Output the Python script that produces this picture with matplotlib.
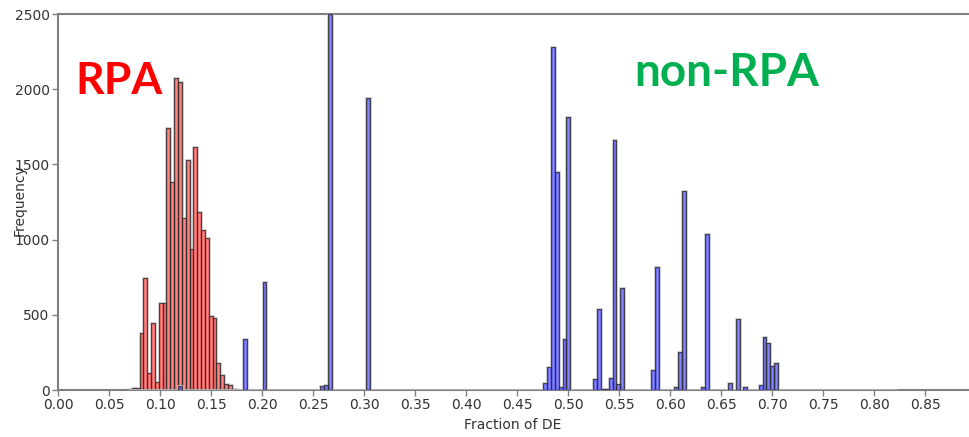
import numpy as np
import matplotlib
matplotlib.use("Agg")
import matplotlib.pyplot as plt

# ---- data ----
bin_lo = 0.0686
bin_width = 0.00377
n_bins = 200

rpa_bins = [0, 1, 2, 3, 4, 5, 6, 7, 8, 9, 10, 11, 12, 13, 14, 15, 16, 17, 18,
            19, 20, 21, 22, 23, 24, 25, 26, 27]
rpa_counts = [5, 10, 15, 381, 747, 113, 445, 55, 576, 576, 1740, 1381, 2072,
              2051, 1141, 1529, 937, 1618, 1186, 1064, 1013, 494, 477, 182,
              100, 40, 33, 5]

nonrpa_bins = [13, 30, 35, 50, 51, 52, 62, 108, 109, 110, 111, 112, 113, 114,
               121, 122, 123, 124, 125, 126, 127, 128, 136, 137, 142, 143, 144,
               149, 150, 156, 158, 160, 164, 165, 166, 167, 168]
nonrpa_counts = [25, 339, 720, 29, 33, 2500, 1940, 49, 151, 2279, 1452, 20,
                 337, 1813, 71, 541, 8, 8, 78, 1662, 40, 676, 133, 820, 22, 255,
                 1325, 18, 1037, 49, 470, 22, 33, 355, 315, 160, 177]

xticks = [0.00, 0.05, 0.10, 0.15, 0.20, 0.25, 0.30, 0.35, 0.40, 0.45, 0.50,
          0.55, 0.60, 0.65, 0.70, 0.75, 0.80, 0.85]
yticks = [0, 500, 1000, 1500, 2000, 2500]

# ---- build full histograms ----
edges = bin_lo + bin_width * np.arange(n_bins + 1)
rpa_full = np.zeros(n_bins)
rpa_full[rpa_bins] = rpa_counts
non_full = np.zeros(n_bins)
non_full[nonrpa_bins] = nonrpa_counts

fig = plt.figure(figsize=(9.69, 4.37), dpi=100)
ax = fig.add_axes([58 / 969, 1 - 390 / 437, 910 / 969, 376 / 437])

for counts, fc, z in [(rpa_full, (1.0, 0.0, 0.0, 0.48), 2),
                      (non_full, (0.0, 0.0, 1.0, 0.48), 3)]:
    ax.bar(edges[:-1], counts, width=bin_width, align="edge",
           facecolor="none", edgecolor="#c0c0c0", linewidth=1.8, zorder=z)
    ax.bar(edges[:-1], counts, width=bin_width, align="edge",
           facecolor=fc, edgecolor="#303030", linewidth=0.6, zorder=z + 0.5)

ax.set_xlim(0, 0.892)
ax.set_ylim(0, 2500)
ax.set_xticks(xticks)
ax.set_xticklabels([f"{t:.2f}" for t in xticks])
ax.set_yticks(yticks)
ax.set_yticklabels([str(t) for t in yticks])

for s in ["left", "bottom", "top"]:
    ax.spines[s].set_color("#808080")
    ax.spines[s].set_linewidth(1.5)
ax.spines["right"].set_visible(False)
ax.tick_params(axis="both", colors="#808080", length=4, width=1,
               labelcolor="#333333", labelsize=10, pad=2)

ax.set_xlabel("Fraction of DE", fontsize=10, color="#333333", labelpad=4)
ax.set_ylabel("Frequency", fontsize=10, color="#333333")
ax.yaxis.set_label_coords(-0.034, 0.505)

ax.text(0.017, 2055, "RPA", color="#ff0000", fontsize=32,
        fontweight="bold", family="Lato", va="center", ha="left", zorder=5)
ax.text(0.565, 2110, "non-RPA", color="#00b050", fontsize=33,
        fontweight="bold", family="Lato", va="center", ha="left", zorder=5)

fig.savefig("out.png", dpi=100)
